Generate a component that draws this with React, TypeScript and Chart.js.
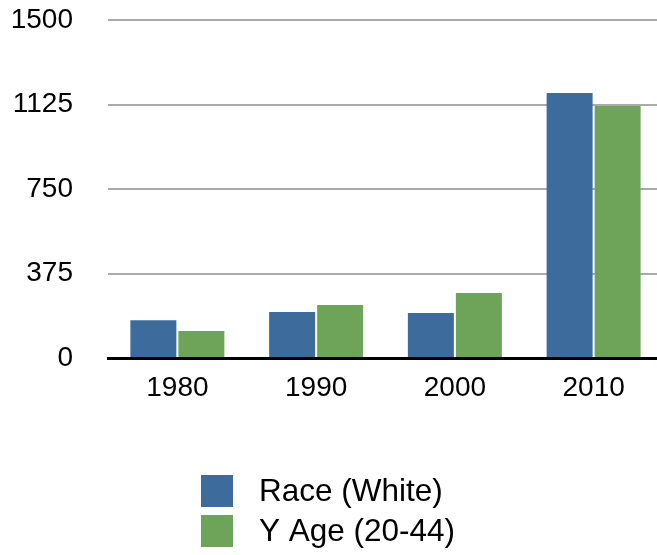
import React, { useEffect, useRef } from "react";
import { Chart, registerables } from "chart.js";

Chart.register(...registerables);

const categories = ["1980", "1990", "2000", "2010"];
const raceWhite = [168, 204, 200, 1176];
const youngAge = [120, 235, 288, 1118];
const seriesNames = ["Race (White)", "Y Age (20-44)"];
const yTicks = [0, 375, 750, 1125, 1500];

const BLUE = "#3d6b9b";
const GREEN = "#6da45a";
const FONT = "'Liberation Sans', Arial, Helvetica, sans-serif";

const legendPlugin = {
  id: "stackedLegend",
  afterDraw(chart: any) {
    const ctx = chart.ctx;
    const area = chart.chartArea;
    ctx.save();
    ctx.font = `31.5px ${FONT}`;
    ctx.textBaseline = "middle";
    ctx.textAlign = "left";
    chart.data.datasets.forEach((ds: any, i: number) => {
      const top = area.bottom + 117 + i * 40;
      ctx.fillStyle = ds.backgroundColor;
      ctx.fillRect(201, top, 32, 32);
      ctx.fillStyle = "#000";
      ctx.fillText(ds.label, 259, top + 17);
    });
    ctx.restore();
  },
};

export default function App() {
  const ref = useRef<HTMLCanvasElement | null>(null);

  useEffect(() => {
    if (!ref.current) return;
    Chart.defaults.font.family = FONT;
    const chart = new Chart(ref.current, {
      type: "bar",
      data: {
        labels: categories,
        datasets: [
          {
            label: seriesNames[0],
            data: raceWhite,
            backgroundColor: BLUE,
            categoryPercentage: 0.692,
            barPercentage: 0.958,
          },
          {
            label: seriesNames[1],
            data: youngAge,
            backgroundColor: GREEN,
            categoryPercentage: 0.692,
            barPercentage: 0.958,
          },
        ],
      },
      options: {
        responsive: false,
        animation: false,
        devicePixelRatio: 1,
        layout: { padding: { top: 20, left: 0, right: 0, bottom: 137 } },
        plugins: {
          legend: { display: false },
          tooltip: { enabled: false },
        },
        scales: {
          x: {
            grid: { display: false, drawTicks: false },
            border: { display: true, color: "#000", width: 3 },
            ticks: { color: "#000", font: { size: 28, family: FONT }, padding: 13 },
            afterFit: (s: any) => {
              s.height = 60;
              s.paddingLeft = 0;
              s.paddingRight = 0;
            },
          },
          y: {
            min: 0,
            max: 1500,
            afterBuildTicks: (s: any) => {
              s.ticks = yTicks.map((v) => ({ value: v }));
            },
            grid: {
              drawTicks: false,
              color: (c: any) => (c.tick && c.tick.value === 0 ? "rgba(0,0,0,0)" : "#aaaaaa"),
              lineWidth: 2,
            },
            border: { display: false },
            ticks: {
              color: "#000",
              font: { size: 28, family: FONT },
              padding: 35,
              callback: (v: any) => String(v),
            },
            afterFit: (s: any) => {
              s.width = 108;
              s.paddingTop = 0;
              s.paddingBottom = 0;
            },
          },
        },
      },
      plugins: [legendPlugin],
    });
    return () => chart.destroy();
  }, []);

  return (
    <div
      style={{
        position: "fixed",
        left: 0,
        top: 0,
        width: 657,
        height: 555,
        overflow: "hidden",
        background: "#fff",
      }}
    >
      <canvas ref={ref} width={663} height={555} style={{ width: 663, height: 555, display: "block" }} />
    </div>
  );
}
